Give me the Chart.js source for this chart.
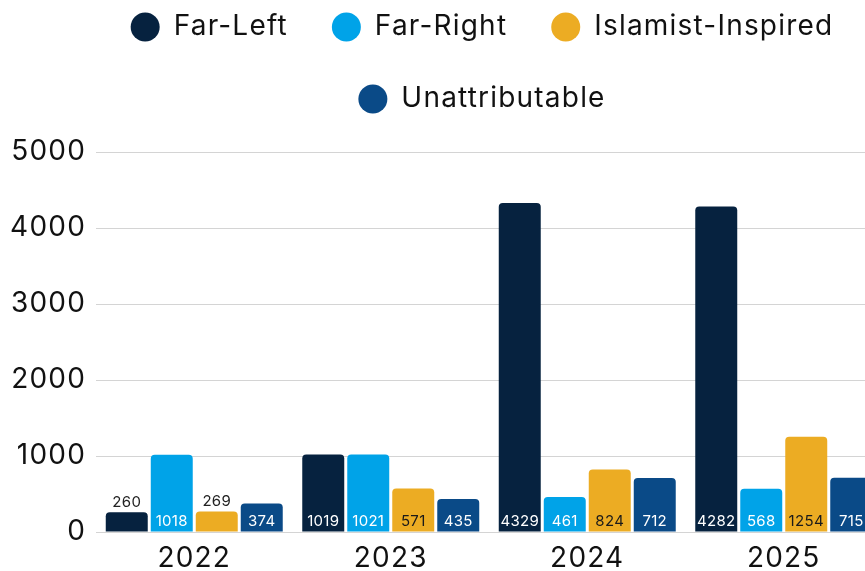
<!DOCTYPE html>
<html>
<head>
<meta charset="utf-8">
<script src="https://cdn.jsdelivr.net/npm/chart.js@4/dist/chart.umd.min.js"></script>
<style>
  html, body { margin: 0; padding: 0; background: #fff; overflow: hidden; }
  #wrap { position: relative; width: 964px; height: 602px; margin-top: -31px; }
</style>
</head>
<body>
<div id="wrap"><canvas id="chart"></canvas></div>
<script>
// Datos del gráfico
const years = ['2022', '2023', '2024', '2025'];
const farLeft = [260, 1019, 4329, 4282];
const farRight = [1018, 1021, 461, 568];
const islamist = [269, 571, 824, 1254];
const unattributable = [374, 435, 712, 715];
const yTicks = [0, 1000, 2000, 3000, 4000, 5000];

const COLORS = {
    farLeft: '#06223f',
    farRight: '#00a3e8',
    islamist: '#ecac23',
    unattributable: '#0a4a87'
};

const FONT = 'Inter, "Open Sans", sans-serif';
Chart.defaults.font.family = FONT;
Chart.defaults.color = '#111';

// Espaciado de letras (la fuente original es más ancha)
const letterSpacing = {
    id: 'letterSpacing',
    beforeLayout(chart) { chart.ctx.letterSpacing = '1.2px'; },
    beforeDraw(chart) { chart.ctx.letterSpacing = '1.2px'; }
};

// Espacio extra bajo la leyenda
const legendSpacer = {
    id: 'legendSpacer',
    beforeInit(chart) {
        const fit = chart.legend.fit;
        chart.legend.fit = function () {
            fit.call(this);
            this.height += 29;
        };
    }
};

// Etiquetas de valor sobre/dentro de las barras
const barValues = {
    id: 'barValues',
    afterDatasetsDraw(chart) {
        const { ctx } = chart;
        ctx.save();
        ctx.letterSpacing = '0.3px';
        ctx.font = '15px ' + FONT;
        ctx.textAlign = 'center';
        ctx.textBaseline = 'middle';
        chart.data.datasets.forEach((ds, i) => {
            const meta = chart.getDatasetMeta(i);
            meta.data.forEach((bar, j) => {
                const value = ds.data[j];
                const h = bar.base - bar.y;
                if (h < 24) {
                    ctx.fillStyle = '#222';
                    ctx.fillText(value, bar.x, bar.y - 10);
                } else {
                    ctx.fillStyle = ds.labelColor;
                    ctx.fillText(value, bar.x, bar.base - 10);
                }
            });
        });
        ctx.restore();
    }
};

const makeSet = (label, data, color, labelColor) => ({
    label,
    data,
    backgroundColor: color,
    borderRadius: 4,
    labelColor,
    categoryPercentage: 0.916,
    barPercentage: 0.933
});

new Chart(document.getElementById('chart'), {
    type: 'bar',
    data: {
        labels: years,
        datasets: [
            makeSet('Far-Left', farLeft, COLORS.farLeft, '#fff'),
            makeSet('Far-Right', farRight, COLORS.farRight, '#fff'),
            makeSet('Islamist-Inspired', islamist, COLORS.islamist, '#1a1a1a'),
            makeSet('Unattributable', unattributable, COLORS.unattributable, '#fff')
        ]
    },
    options: {
        responsive: true,
        maintainAspectRatio: false,
        animation: false,
        layout: { padding: 0 },
        plugins: {
            legend: {
                position: 'top',
                labels: {
                    usePointStyle: true,
                    pointStyle: 'circle',
                    boxHeight: 20.5,
                    pointStyleWidth: 29,
                    padding: 44,
                    font: { size: 28 },
                    color: '#111'
                }
            },
            tooltip: { enabled: false }
        },
        scales: {
            x: {
                afterFit(scale) { scale.height = 39; },
                grid: { display: false, drawTicks: false },
                border: { display: false },
                ticks: { font: { size: 28 }, color: '#111', padding: 10 }
            },
            y: {
                min: 0,
                max: 5000,
                afterFit(scale) { scale.width = 96; },
                afterBuildTicks(scale) { scale.ticks = yTicks.map(v => ({ value: v })); },
                grid: { color: '#d4d4d4', drawTicks: false },
                border: { display: false },
                ticks: {
                    font: { size: 28 },
                    color: '#111',
                    padding: 10,
                    callback: v => String(v)
                }
            },
            // eje vacío a la derecha: sólo reserva espacio
            yRight: {
                position: 'right',
                afterFit(scale) { scale.width = 82; },
                grid: { display: false, drawTicks: false },
                border: { display: false },
                ticks: { display: false }
            }
        }
    },
    plugins: [letterSpacing, legendSpacer, barValues]
});
</script>
</body>
</html>
